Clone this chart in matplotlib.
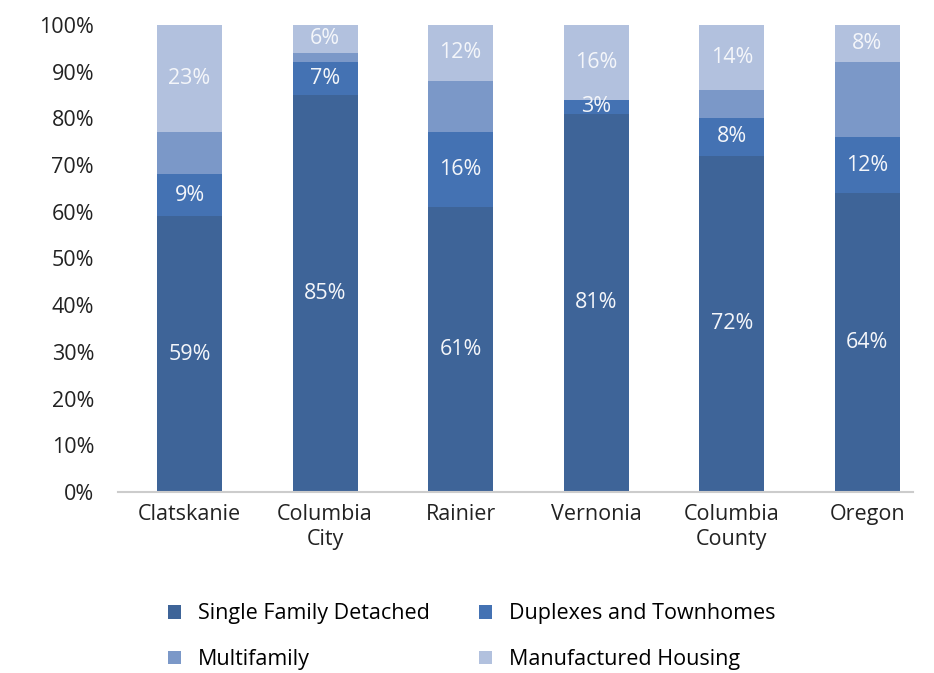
import numpy as np
import matplotlib.pyplot as plt
from matplotlib.patches import Patch

# places and housing share (%) per type
places = ["Clatskanie", "Columbia\nCity", "Rainier", "Vernonia", "Columbia\nCounty", "Oregon"]
single_family = [59, 85, 61, 81, 72, 64]
duplexes = [9, 7, 16, 3, 8, 12]
multifamily = [9, 2, 11, 0, 6, 16]
manufactured = [23, 6, 12, 16, 14, 8]

series_names = ["Single Family Detached", "Duplexes and Townhomes", "Multifamily", "Manufactured Housing"]
colors = ["#3e6498", "#4472b3", "#7b98c8", "#b2c1de"]
show_labels = [True, True, False, True]

plt.rcParams['font.family'] = ['Open Sans', 'DejaVu Sans']

fig = plt.figure(figsize=(9.34, 6.73), dpi=100)
ax = fig.add_axes([0.126, 0.269, 0.852, 0.694])

x = np.arange(len(places))
bottom = np.zeros(len(places))
for vals, col, lab in zip([single_family, duplexes, multifamily, manufactured], colors, show_labels):
    vals = np.array(vals, dtype=float)
    ax.bar(x, vals, 0.48, bottom=bottom, color=col, linewidth=0)
    if lab:
        for xi, b, v in zip(x, bottom, vals):
            if v > 0:
                ax.text(xi, b + v / 2, f"{int(round(v))}%", ha='center', va='center',
                        color='#f4f6fa', fontsize=15.5)
    bottom += vals

ax.set_xlim(-0.53, 5.34)
ax.set_ylim(0, 100)
ax.set_yticks(np.arange(0, 101, 10))
ax.set_yticklabels([f"{t}%" for t in range(0, 101, 10)])
ax.set_xticks(x)
ax.set_xticklabels(places, linespacing=1.25)
ax.tick_params(axis='y', length=0, pad=17, labelsize=15.5, colors='#222222')
ax.tick_params(axis='x', length=0, pad=9, labelsize=15.5, colors='#222222')

for s in ['top', 'right', 'left']:
    ax.spines[s].set_visible(False)
ax.spines['bottom'].set_color('#cccccc')
ax.spines['bottom'].set_linewidth(1.5)

# legend filled column-wise, so order gives rows: SFD | Duplex, Multi | Manufactured
order = [0, 2, 1, 3]
handles = [Patch(facecolor=colors[i], label=series_names[i]) for i in order]
fig.legend(handles=handles, loc='center', bbox_to_anchor=(0.505, 0.054), ncol=2,
           frameon=False, fontsize=15.5, handlelength=0.6, handleheight=0.6,
           handletextpad=0.8, columnspacing=2.3, labelspacing=1.15)

plt.savefig("out.png", dpi=100)
